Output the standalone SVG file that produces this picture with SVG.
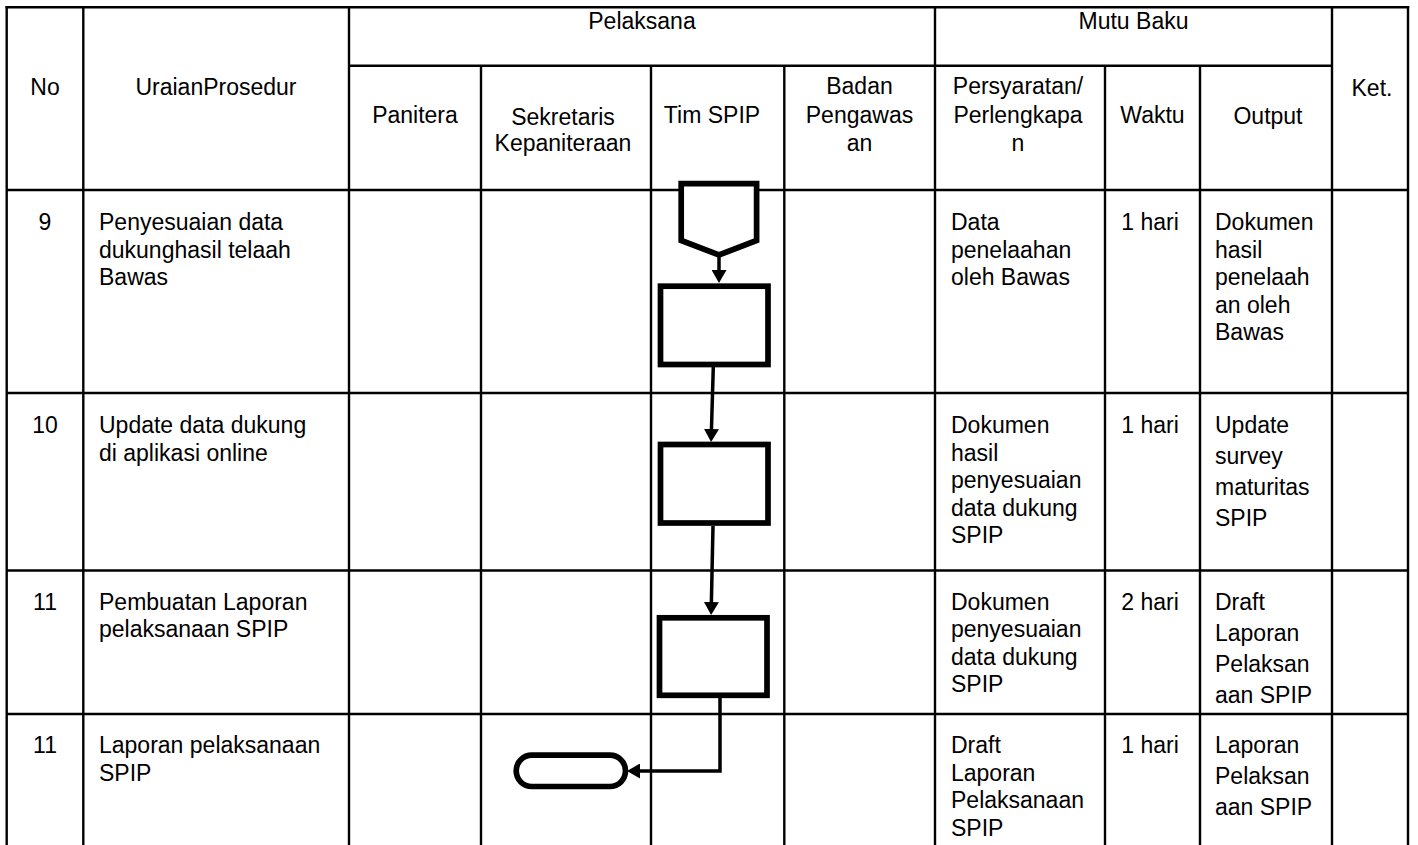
<svg xmlns="http://www.w3.org/2000/svg" width="1418" height="845" viewBox="0 0 1418 845">
<style>
  .grid line { stroke: #000; stroke-width: 2.4; }
  text { font-family: "Liberation Sans", Arial, sans-serif; font-size: 23px; fill: #000; }
  .c { text-anchor: middle; }
  .node { fill: #fff; stroke: #000; stroke-width: 5.7; stroke-linejoin: miter; }
  .conn { fill: none; stroke: #000; stroke-width: 3.5; marker-end: url(#arrow); }
</style>
<defs>
  <marker id="arrow" viewBox="0 0 13 15" markerWidth="13" markerHeight="15" refX="9" refY="7.5" orient="auto" markerUnits="userSpaceOnUse">
    <path d="M0,0 L13,7.5 L0,15 z" fill="#000"/>
  </marker>
</defs>
<rect width="1418" height="845" fill="#fff"/>

<g id="table" class="grid">
  <line x1="5.5" y1="7.3" x2="1409.2" y2="7.3"/>
  <line x1="6.7" y1="6.1" x2="6.7" y2="845"/>
  <line x1="1408" y1="6.1" x2="1408" y2="845"/>
  <line x1="83.3" y1="7.3" x2="83.3" y2="845"/>
  <line x1="349" y1="7.3" x2="349" y2="845"/>
  <line x1="935" y1="7.3" x2="935" y2="845"/>
  <line x1="1332" y1="7.3" x2="1332" y2="845"/>
  <line x1="349" y1="65.7" x2="1332" y2="65.7"/>
  <line x1="481" y1="65.7" x2="481" y2="845"/>
  <line x1="651" y1="65.7" x2="651" y2="845"/>
  <line x1="784.3" y1="65.7" x2="784.3" y2="845"/>
  <line x1="1105" y1="65.7" x2="1105" y2="845"/>
  <line x1="1200" y1="65.7" x2="1200" y2="845"/>
  <line x1="6.7" y1="190" x2="1408" y2="190"/>
  <line x1="6.7" y1="393" x2="1408" y2="393"/>
  <line x1="6.7" y1="570.5" x2="1408" y2="570.5"/>
  <line x1="6.7" y1="714" x2="1408" y2="714"/>
</g>

<g id="header">
  <text class="c" x="45" y="95">No</text>
  <text class="c" x="216" y="95">UraianProsedur</text>
  <text class="c" x="642" y="28.5">Pelaksana</text>
  <text class="c" x="1133.5" y="28.5">Mutu Baku</text>
  <text class="c" x="1372" y="96">Ket.</text>
  <text class="c" x="415" y="123">Panitera</text>
  <text class="c" x="563" y="124.5">Sekretaris</text>
  <text class="c" x="563" y="151">Kepaniteraan</text>
  <text class="c" x="712" y="123">Tim SPIP</text>
  <text class="c" x="859.5" y="94">Badan</text>
  <text class="c" x="859.5" y="123">Pengawas</text>
  <text class="c" x="859.5" y="151">an</text>
  <text class="c" x="1018" y="94">Persyaratan/</text>
  <text class="c" x="1018" y="123">Perlengkapa</text>
  <text class="c" x="1018" y="151">n</text>
  <text class="c" x="1152.5" y="123">Waktu</text>
  <text class="c" x="1268" y="124">Output</text>
</g>

<g id="row9">
  <text class="c" x="45" y="230">9</text>
  <text x="99" y="230">Penyesuaian data</text>
  <text x="99" y="257.5">dukunghasil telaah</text>
  <text x="99" y="285">Bawas</text>
  <text x="951" y="230">Data</text>
  <text x="951" y="257.5">penelaahan</text>
  <text x="951" y="285">oleh Bawas</text>
  <text class="c" x="1150" y="230">1 hari</text>
  <text x="1215" y="230">Dokumen</text>
  <text x="1215" y="257.5">hasil</text>
  <text x="1215" y="285">penelaah</text>
  <text x="1215" y="312.5">an oleh</text>
  <text x="1215" y="340">Bawas</text>
</g>

<g id="row10">
  <text class="c" x="45" y="433">10</text>
  <text x="99" y="433">Update data dukung</text>
  <text x="99" y="460.5">di aplikasi online</text>
  <text x="951" y="433">Dokumen</text>
  <text x="951" y="460.5">hasil</text>
  <text x="951" y="488">penyesuaian</text>
  <text x="951" y="515.5">data dukung</text>
  <text x="951" y="543">SPIP</text>
  <text class="c" x="1150" y="433">1 hari</text>
  <text x="1215" y="433">Update</text>
  <text x="1215" y="464">survey</text>
  <text x="1215" y="495">maturitas</text>
  <text x="1215" y="526">SPIP</text>
</g>

<g id="row11a">
  <text class="c" x="45" y="609.5">11</text>
  <text x="99" y="609.5">Pembuatan Laporan</text>
  <text x="99" y="637">pelaksanaan SPIP</text>
  <text x="951" y="609.5">Dokumen</text>
  <text x="951" y="637">penyesuaian</text>
  <text x="951" y="664.5">data dukung</text>
  <text x="951" y="692">SPIP</text>
  <text class="c" x="1150" y="609.5">2 hari</text>
  <text x="1215" y="609.5">Draft</text>
  <text x="1215" y="640.5">Laporan</text>
  <text x="1215" y="671.5">Pelaksan</text>
  <text x="1215" y="702.5">aan SPIP</text>
</g>

<g id="row11b">
  <text class="c" x="45" y="753">11</text>
  <text x="99" y="753">Laporan pelaksanaan</text>
  <text x="99" y="780.5">SPIP</text>
  <text x="951" y="753">Draft</text>
  <text x="951" y="780.5">Laporan</text>
  <text x="951" y="808">Pelaksanaan</text>
  <text x="951" y="835.5">SPIP</text>
  <text class="c" x="1150" y="753">1 hari</text>
  <text x="1215" y="753">Laporan</text>
  <text x="1215" y="784">Pelaksan</text>
  <text x="1215" y="815">aan SPIP</text>
</g>

<g id="connectors">
  <path class="conn" d="M719,256 L719,279"/>
  <path class="conn" d="M713.3,367 L711.2,438"/>
  <path class="conn" d="M713,526 L711.2,611"/>
  <path class="conn" d="M720,698 L720,771 L631,771"/>
</g>

<g id="node-offpage">
  <polygon class="node" points="681.2,183.7 756.6,183.7 756.6,240.5 719,255 681.2,240.5"/>
</g>
<g id="node-step9">
  <rect class="node" x="660.5" y="286.2" width="107.5" height="78.3"/>
</g>
<g id="node-step10">
  <rect class="node" x="660.5" y="444.5" width="107.5" height="78.5"/>
</g>
<g id="node-step11">
  <rect class="node" x="659.5" y="617.8" width="107.5" height="77.5"/>
</g>
<g id="node-end">
  <rect class="node" x="516.2" y="755.2" width="109.3" height="31.3" rx="15.65" ry="15.65"/>
</g>
</svg>
